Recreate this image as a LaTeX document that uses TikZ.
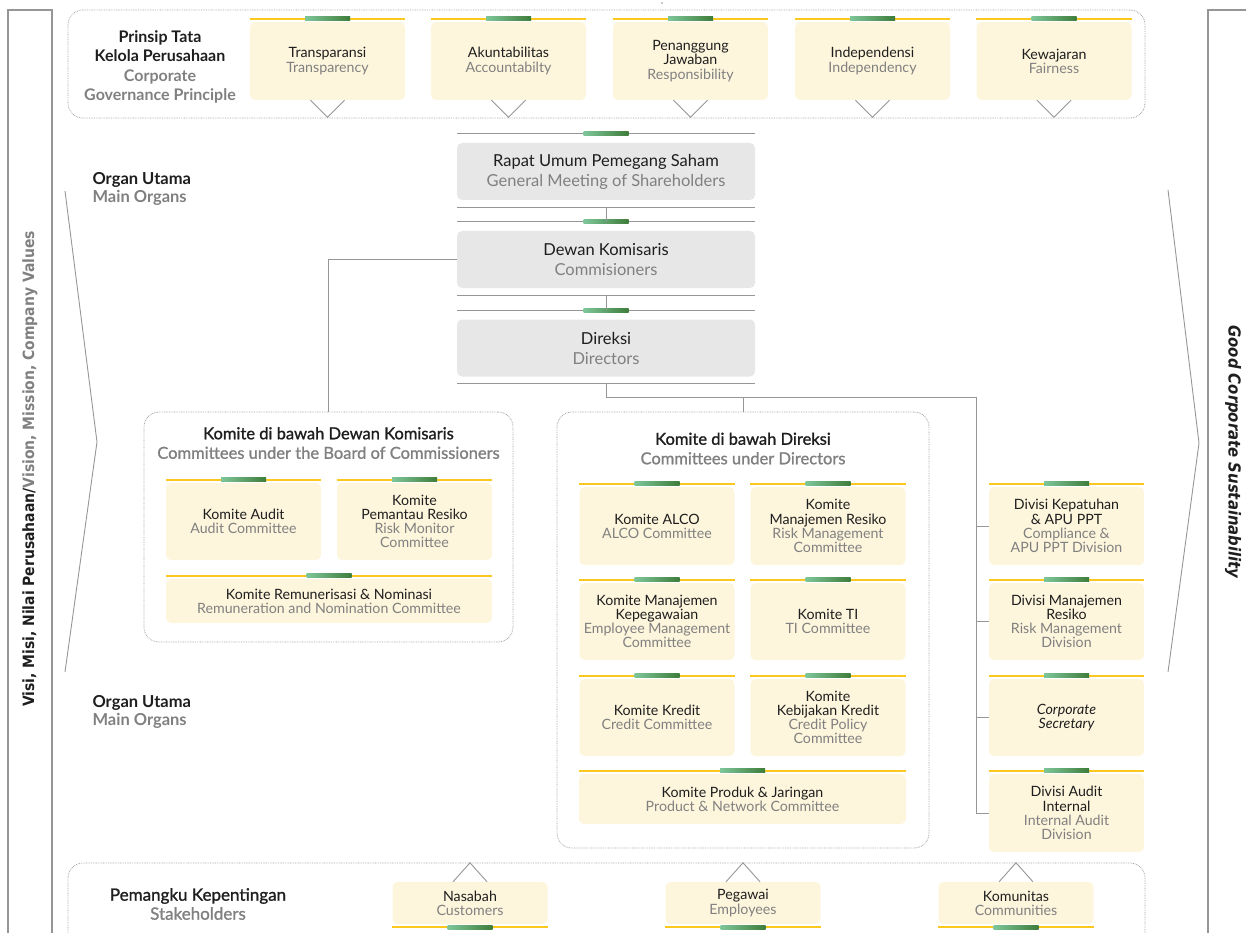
\documentclass[tikz,border=0pt]{standalone}
\usepackage{fontspec}
\setmainfont{Lato}
\newfontfamily\condf{DejaVu Sans Condensed}
\newfontfamily\semif[FakeBold=1.2]{Lato}
\usetikzlibrary{calc}
\definecolor{cream}{RGB}{253,245,220}
\definecolor{yrulec}{RGB}{250,200,30}
\definecolor{gfill}{RGB}{231,231,232}
\definecolor{ink}{RGB}{30,30,30}
\definecolor{tgray}{RGB}{128,128,128}
\definecolor{lgreen}{RGB}{126,198,154}
\definecolor{dgreen}{RGB}{62,125,58}
\definecolor{lgray}{RGB}{150,150,150}
\definecolor{dotc}{RGB}{165,165,165}
\newcommand\eng[1]{{\color{tgray}#1}}
\tikzset{
  card/.style={fill=cream, rounded corners=5pt, align=center, inner sep=0pt, text=ink,
    font=\fontsize{14.2}{14.2}\selectfont, minimum width=155pt},
  gcard/.style={fill=gfill, rounded corners=5pt, align=center, inner sep=0pt, text=ink,
    font=\fontsize{16.5}{20}\selectfont, minimum width=298pt, minimum height=57pt},
  frame/.style={draw=dotc, line width=0.8pt, dash pattern=on 0.8pt off 0.9pt, rounded corners=15pt, inner sep=0pt},
  conn/.style={draw=lgray, line width=0.9pt},
  yrule/.style={draw=yrulec, line width=1.5pt},
  grule/.style={draw=lgray, line width=0.9pt},
  gbar/.style={left color=lgreen, right color=dgreen},
  heading/.style={align=center, text=ink, font=\semif\fontsize{16.5}{19.5}\selectfont},
  organ/.style={align=left, anchor=west, text=ink, font=\bfseries\fontsize{16.5}{18.5}\selectfont},
  edge/.style={draw=lgray, line width=1.3pt}
}
\begin{document}
\begin{tikzpicture}[x=1pt,y=-1pt]
\useasboundingbox (0,0) rectangle (1246,933);
\clip (0,0) rectangle (1246,933);
% side frames
\draw[edge] (8,940) -- (8,10) -- (52,10) -- (52,940);
\draw[edge] (1250,10) -- (1208,10) -- (1208,940);
\node[rotate=90, font=\condf\bfseries\fontsize{15.5}{18}\selectfont, text=ink] (vis) at (30,469)
  {Visi, Misi, Nilai Perusahaan/\eng{Vision, Mission, Company Values}};
\node[rotate=-90, font=\condf\bfseries\itshape\fontsize{16.5}{18}\selectfont, text=ink] (gcs) at (1233,452)
  {Good Corporate Sustainability};
\draw[conn] (65,191) -- (97,442) -- (65,672);
\draw[conn] (1168,190) -- (1199,443) -- (1168,672);
\fill[lgray] (662,3) circle (0.9);

% top frame: principles
\node[frame, minimum width=1077pt, minimum height=108pt] (pf) at (606.5,64) {};
\node[align=center, font=\bfseries\fontsize{16}{19.5}\selectfont, text=ink] (pt) at (160,67)
  {Prinsip Tata\\Kelola Perusahaan\\\eng{Corporate}\\\eng{Governance Principle}};
\node[card, minimum height=78pt] (t1) at (327.5,61) {Transparansi\\\eng{Transparency}};
\node[card, minimum height=78pt] (t2) at (508.5,61) {Akuntabilitas\\\eng{Accountabilty}};
\node[card, minimum height=78pt] (t3) at (690.5,61) {Penanggung\\Jawaban\\\eng{Responsibility}};
\node[card, minimum height=78pt] (t4) at (872.5,61) {Independensi\\\eng{Independency}};
\node[card, minimum height=78pt] (t5) at (1054,61) {Kewajaran\\\eng{Fairness}};
\foreach \n in {t1,t2,t3,t4,t5}{
  \draw[conn] ([xshift=-17pt]\n.south) -- ([yshift=-17pt]\n.south) -- ([xshift=17pt]\n.south);
}

% organ labels
\node[organ] (ou1) at (89,189) {Organ Utama\\\eng{Main Organs}};
\node[organ] (ou2) at (89,712) {Organ Utama\\\eng{Main Organs}};

% central organs
\node[gcard] (rups) at (606,171.5) {Rapat Umum Pemegang Saham\\\eng{General Meeting of Shareholders}};
\node[gcard] (dk) at (606,259.5) {Dewan Komisaris\\\eng{Commisioners}};
\node[gcard] (dir) at (606,348) {Direksi\\\eng{Directors}};
\foreach \n in {rups,dk,dir}{
  \draw[grule] ([yshift=9pt]\n.north west) -- ([yshift=9pt]\n.north east);
  \draw[grule] ([yshift=-7pt]\n.south west) -- ([yshift=-7pt]\n.south east);
  \shade[gbar] ([xshift=-22.5pt,yshift=7pt]\n.north) rectangle ([xshift=22.5pt,yshift=11pt]\n.north);
}
\draw[conn] ([yshift=-7pt]rups.south) -- ([yshift=9pt]dk.north);
\draw[conn] ([yshift=-7pt]dk.south) -- ([yshift=9pt]dir.north);

% committees under commissioners
\node[frame, minimum width=369pt, minimum height=230pt] (kdk) at (328.5,527) {};
\node[heading] (kdkt) at (328.5,443) {Komite di bawah Dewan Komisaris\\\eng{Committees under the Board of Commissioners}};
\node[card, minimum height=77pt] (ka) at (243.5,521.5) {Komite Audit\\\eng{Audit Committee}};
\node[card, minimum height=77pt] (kp) at (414.5,521.5) {Komite\\Pemantau Resiko\\\eng{Risk Monitor}\\\eng{Committee}};
\node[card, minimum height=44pt, minimum width=326pt] (kr) at (329,601) {Komite Remunerisasi \& Nominasi\\\eng{Remuneration and Nomination Committee}};
\draw[conn] (dk.west) -| (kdk.north);

% committees under directors
\node[frame, minimum width=372pt, minimum height=436pt] (kd) at (743,630) {};
\node[heading] (kdt) at (743,448.5) {Komite di bawah Direksi\\\eng{Committees under Directors}};
\node[card, minimum height=78pt] (c1) at (657,526) {Komite ALCO\\\eng{ALCO Committee}};
\node[card, minimum height=78pt] (c2) at (828,526) {Komite\\Manajemen Resiko\\\eng{Risk Management}\\\eng{Committee}};
\node[card, minimum height=77pt] (c3) at (657,621.5) {Komite Manajemen\\Kepegawaian\\\eng{Employee Management}\\\eng{Committee}};
\node[card, minimum height=77pt] (c4) at (828,621.5) {Komite TI\\\eng{TI Committee}};
\node[card, minimum height=77pt] (c5) at (657,717.5) {Komite Kredit\\\eng{Credit Committee}};
\node[card, minimum height=77pt] (c6) at (828,717.5) {Komite\\Kebijakan Kredit\\\eng{Credit Policy}\\\eng{Committee}};
\node[card, minimum height=50pt, minimum width=327pt] (c7) at (742.5,799) {Komite Produk \& Jaringan\\\eng{Product \& Network Committee}};

% divisions
\node[card, minimum height=78pt] (dv1) at (1066.5,526) {Divisi Kepatuhan\\\& APU PPT\\\eng{Compliance \&}\\\eng{APU PPT Division}};
\node[card, minimum height=77pt] (dv2) at (1066.5,621.5) {Divisi Manajemen\\Resiko\\\eng{Risk Management}\\\eng{Division}};
\node[card, minimum height=77pt] (dv3) at (1066.5,717.5) {\itshape Corporate\\\itshape Secretary};
\node[card, minimum height=78pt] (dv4) at (1066.5,813) {Divisi Audit\\Internal\\\eng{Internal Audit}\\\eng{Division}};

\foreach \n in {t1,t2,t3,t4,t5,ka,kp,kr,c1,c2,c3,c4,c5,c6,c7,dv1,dv2,dv3,dv4}{
  \draw[yrule] ([yshift=3pt]\n.north west) -- ([yshift=3pt]\n.north east);
  \shade[gbar] ([xshift=-22.5pt,yshift=1pt]\n.north) rectangle ([xshift=22.5pt,yshift=5pt]\n.north);
}

\coordinate (jr) at (976,397);
\draw[conn] ([yshift=-7pt]dir.south) |- (jr) -- (jr |- dv4.west);
\draw[conn] (kd.north) -- (kd.north |- jr);
\foreach \n in {dv1,dv2,dv3,dv4}{ \draw[conn] (\n.west) -- (\n.west -| jr); }

% stakeholders
\draw[frame] (68,945) -- (68,863) -- (1145,863) -- (1145,945);
\node[align=center, text=ink, font=\semif\fontsize{17}{19}\selectfont] (pk) at (198,904) {Pemangku Kepentingan\\\eng{Stakeholders}};
\node[card, minimum height=42pt] (s1) at (470,903) {Nasabah\\\eng{Customers}};
\node[card, minimum height=42pt] (s2) at (743,903) {Pegawai\\\eng{Employees}};
\node[card, minimum height=42pt] (s3) at (1016,903) {Komunitas\\\eng{Communities}};
\foreach \n in {s1,s2,s3}{
  \draw[conn] ([xshift=-17pt]\n.north) -- ([yshift=19pt]\n.north) -- ([xshift=17pt]\n.north);
  \draw[yrule] ([yshift=-3pt]\n.south west) -- ([yshift=-3pt]\n.south east);
  \shade[gbar] ([xshift=-22.5pt,yshift=-1pt]\n.south) rectangle ([xshift=22.5pt,yshift=-5pt]\n.south);
}
\end{tikzpicture}
\end{document}
